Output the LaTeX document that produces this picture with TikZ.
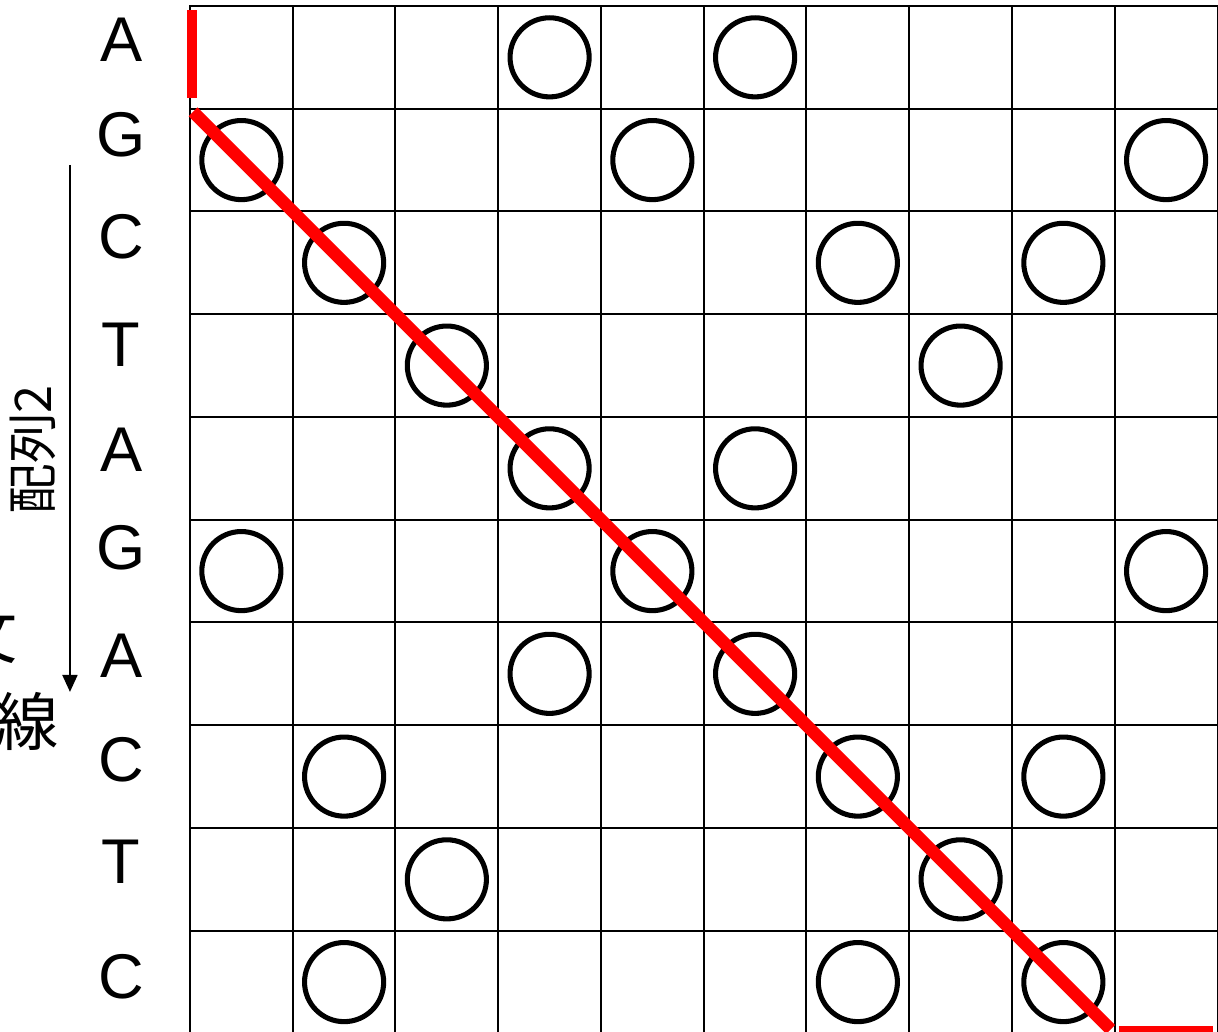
\documentclass[tikz,border=0pt]{standalone}
\usepackage{fontspec}
\setmainfont{Liberation Sans}
\newfontfamily\jpfont{Noto Sans CJK JP}
\usetikzlibrary{arrows.meta}
\definecolor{pathred}{HTML}{FF0000}
\tikzset{
  gridline/.style={draw=black,line width=1.1pt,line cap=rect},
  hitcirc/.style={circle,draw=black,line width=2.8pt,minimum size=1.54cm,
    inner sep=0pt},
  seqlabel/.style={inner sep=0pt,font=\fontsize{35}{42}\selectfont},
  jplabel/.style={inner sep=0pt,font=\jpfont\fontsize{35}{42}\selectfont},
  pathseg/.style={draw=pathred,line width=5.5pt},
  seqarrow/.style={-{Triangle[length=9.4pt,width=8.3pt]},line width=1.1pt},
}

\begin{document}
\begin{tikzpicture}[x=2cm,y=-2cm]
  \useasboundingbox (-1.849,-0.058) rectangle (10.005,9.985);
  \clip (-1.849,-0.058) rectangle (10.005,9.985);
  % dot plot grid
  \foreach \k in {0,...,10} {
    \draw[gridline] (\k,0) -- (\k,10);
    \draw[gridline] (0,\k) -- (10,\k);
  }
  % sequence 2, one letter per row
  \foreach \b/\yy [count=\i from 0] in {A/0.33,G/1.25,C/2.25,T/3.30,A/4.32,
      G/5.27,A/6.32,C/7.34,T/8.33,C/9.45}
    \node[seqlabel] (lab\i) at (-0.67,\yy) {\b};
  % matches
  \foreach \c/\r in {3/0,5/0, 0/1,4/1,9/1, 1/2,6/2,8/2, 2/3,7/3, 3/4,5/4,
      0/5,4/5,9/5, 3/6,5/6, 1/7,6/7,8/7, 2/8,7/8, 1/9,6/9,8/9}
    \node[hitcirc] (hit-\r-\c) at (\c+0.5,\r+0.5) {};
  % alignment path
  \coordinate (p0) at (0.02,0.04);
  \coordinate (p1) at (0.02,0.895);
  \coordinate (p2) at (0.03,1.03);
  \coordinate (p3) at (8.96,9.96);
  \coordinate (p4) at (9.04,9.98);
  \coordinate (p5) at (9.96,9.98);
  \draw[pathseg] (p0) -- (p1);
  \draw[pathseg,line width=7pt] (p2) -- (p3);
  \draw[pathseg] (p4) -- (p5);
  % axis of sequence 2
  \coordinate (s2top) at (-1.168,1.547);
  \coordinate (s2end) at (-1.168,6.676);
  \draw[seqarrow] (s2top) -- (s2end);
  \node[jplabel,rotate=90,font=\jpfont\fontsize{28}{34}\selectfont]
    (s2name) at (-1.528,4.32) {配列2};
  \node[jplabel] (cutA) at (-1.985,6.12) {文};
  \node[jplabel] (cutB) at (-1.586,6.96) {線};
\end{tikzpicture}
\end{document}
